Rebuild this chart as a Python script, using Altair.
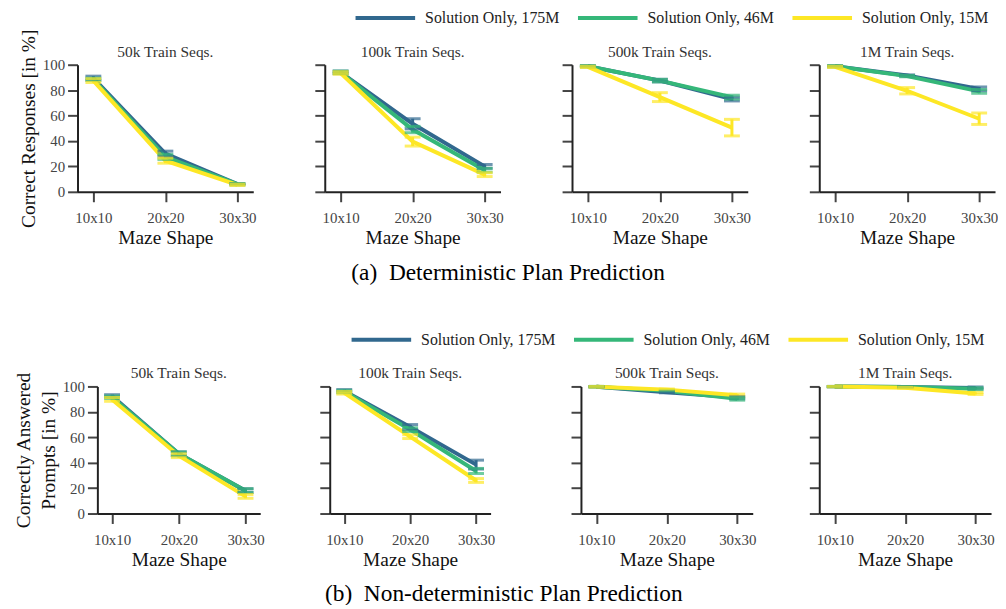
import altair as alt
import pandas as pd

FONT = "Liberation Serif"

shapes = ["10x10", "20x20", "30x30"]
models = ["Solution Only, 175M", "Solution Only, 46M", "Solution Only, 15M"]
colors = ["#31688e", "#35b779", "#fde725"]
panels = ["50k Train Seqs.", "100k Train Seqs.", "500k Train Seqs.", "1M Train Seqs."]

# (a) Deterministic plan prediction, per panel: values at 10x10, 20x20, 30x30
det_175m = [[89.5, 30.0, 6.0], [94.0, 53.5, 20.0], [98.8, 87.5, 73.0], [98.8, 91.5, 81.0]]
det_46m = [[88.5, 27.5, 6.0], [94.0, 49.0, 17.0], [98.8, 87.5, 74.5], [98.8, 91.0, 79.0]]
det_15m = [[87.5, 24.5, 5.5], [93.5, 39.5, 13.5], [98.3, 74.5, 50.5], [98.3, 79.5, 57.5]]
det_175m_err = [[1.5, 2.0, 0.5], [1.0, 4.0, 1.5], [0.5, 1.0, 1.5], [0.5, 0.5, 1.5]]
det_46m_err = [[1.0, 2.0, 0.5], [1.0, 2.5, 1.5], [0.5, 1.0, 1.5], [0.5, 0.5, 1.5]]
det_15m_err = [[1.5, 2.0, 0.5], [1.0, 3.5, 1.5], [0.5, 3.5, 6.5], [0.5, 2.5, 4.5]]

# (b) Non-deterministic plan prediction
nd_175m = [[92.5, 47.0, 18.0], [96.5, 68.0, 38.5], [99.8, 95.5, 91.2], [99.9, 99.6, 98.8]]
nd_46m = [[91.5, 47.0, 18.0], [96.0, 66.0, 33.5], [99.8, 96.5, 90.2], [99.9, 99.5, 98.2]]
nd_15m = [[89.8, 45.5, 13.5], [95.0, 60.5, 26.0], [99.8, 97.5, 93.0], [99.9, 99.0, 94.5]]
nd_175m_err = [[1.0, 1.5, 1.5], [1.0, 2.0, 3.5], [0.3, 0.5, 1.0], [0.2, 0.3, 0.8]]
nd_46m_err = [[1.0, 1.5, 1.5], [1.0, 1.5, 2.0], [0.3, 0.5, 1.0], [0.2, 0.3, 0.8]]
nd_15m_err = [[1.5, 1.5, 1.5], [1.0, 1.5, 1.5], [0.3, 0.5, 1.0], [0.2, 0.3, 0.8]]


def build(means, errs):
    rows = []
    for m, mv, ev in zip(models, means, errs):
        for p, pm, pe in zip(panels, mv, ev):
            for s, v, e in zip(shapes, pm, pe):
                rows.append({"panel": p, "model": m, "shape": s, "mean": v,
                             "lo": max(0.0, v - e), "hi": min(100.0, v + e)})
    return pd.DataFrame(rows)


df_det = build([det_175m, det_46m, det_15m], [det_175m_err, det_46m_err, det_15m_err])
df_nd = build([nd_175m, nd_46m, nd_15m], [nd_175m_err, nd_46m_err, nd_15m_err])

cscale = alt.Scale(domain=models, range=colors)
yvals = [0, 20, 40, 60, 80, 100]


def panel(df, name, width, first, ytitle, legend=None):
    d = df[df.panel == name]
    base = alt.Chart(d)
    x = alt.X("shape:N", scale=alt.Scale(type="point", domain=shapes, padding=0.22),
              axis=alt.Axis(title="Maze Shape", labelAngle=0, labelPadding=9, titlePadding=3))
    if first:
        yax = alt.Axis(values=yvals, title=ytitle, titlePadding=4,
                       titleLineHeight=25, labelOverlap=False)
    else:
        yax = alt.Axis(values=yvals, title=None, labels=False, labelOverlap=False)
    yscale = alt.Scale(domain=[0, 100])
    col_plain = alt.Color("model:N", scale=cscale, legend=None)
    col_line = alt.Color("model:N", scale=cscale, legend=legend) if legend is not None else col_plain
    line = base.mark_line(strokeWidth=4).encode(
        x=x, y=alt.Y("mean:Q", scale=yscale, axis=yax), color=col_line)
    rule = base.mark_rule(strokeWidth=3).encode(
        x=x, y=alt.Y("lo:Q", scale=yscale, axis=yax), y2="hi:Q", color=col_plain)
    cap_lo = base.mark_tick(size=16, thickness=3).encode(
        x=x, y=alt.Y("lo:Q", scale=yscale, axis=yax), color=col_plain)
    cap_hi = base.mark_tick(size=16, thickness=3).encode(
        x=x, y=alt.Y("hi:Q", scale=yscale, axis=yax), color=col_plain)
    ttl = alt.Chart(pd.DataFrame({"title": [name]})).mark_text(
        font=FONT, fontSize=15.5, color="#333", baseline="alphabetic", align="center"
    ).encode(text="title:N", x=alt.value(width / 2), y=alt.value(-8))
    return alt.layer(line, rule, cap_lo, cap_hi, ttl).properties(width=width, height=128)


def make_legend(lx):
    return alt.Legend(orient="none", legendX=lx, legendY=-55, direction="horizontal",
                      title=None, symbolType="M-5,0H5", symbolSize=144, symbolStrokeWidth=4,
                      symbolOpacity=1, symbolFillColor="transparent", gridAlign="none",
                      columnPadding=10, labelLimit=300, labelOffset=32,
                      labelFontSize=16, labelFont=FONT, labelColor="#222")


def spacer(w):
    return alt.Chart(pd.DataFrame({"v": [0]})).mark_point(opacity=0).encode(
        x=alt.value(0), y=alt.value(0)).properties(width=w, height=1)


def caption(text):
    return alt.TitleParams(text, orient="bottom", anchor="middle", fontSize=23.5,
                           offset=14, color="black", font=FONT, fontWeight="normal")


def hrow(charts, spacing):
    return alt.concat(*charts, columns=len(charts), spacing=spacing, align="none",
                      bounds="flush")


row1_panels = [panel(df_det, p, 177, i == 0, "Correct Responses [in %]",
                     make_legend(-445) if i == 3 else None)
               for i, p in enumerate(panels)]
row1 = hrow(row1_panels, 72).resolve_legend(color="independent").properties(
    title=caption("(a)\u2002Deterministic Plan Prediction"))

ytitle2 = ["Correctly Answered", "Prompts [in %]"]
p_nd = [
    panel(df_nd, panels[0], 164, True, ytitle2),
    panel(df_nd, panels[1], 162, False, ytitle2),
    panel(df_nd, panels[2], 173, False, ytitle2),
    panel(df_nd, panels[3], 173, False, ytitle2, make_legend(-449)),
]
row2 = hrow([spacer(10), p_nd[0], spacer(50), p_nd[1], spacer(71), p_nd[2], spacer(47), p_nd[3]],
            10).resolve_legend(color="independent").properties(
    title=caption("(b)\u2002Non-deterministic Plan Prediction"))

chart = alt.concat(row1, row2, columns=1, spacing=48).resolve_legend(
    color="independent"
).properties(padding={"top": 0, "left": 5, "right": 0, "bottom": -3}).configure_axis(
    domainColor="#222", domainWidth=2, tickColor="#444", tickWidth=2, tickSize=10,
    labelFont=FONT, labelFontSize=15, labelColor="#444", labelPadding=3,
    titleFont=FONT, titleFontSize=19.5, titleFontWeight="normal", titleColor="#111",
    grid=False, labelOverlap=False,
).configure_view(stroke=None).configure_title(font=FONT, fontWeight="normal")

chart.save("out.html", embed_options={"renderer": "svg", "actions": False})
